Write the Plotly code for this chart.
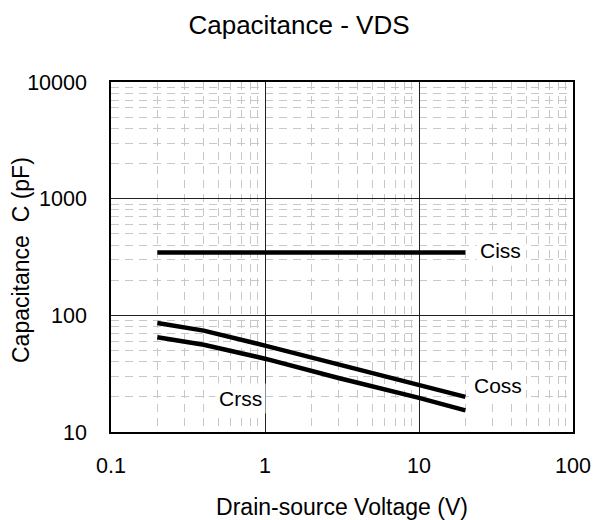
import math
import plotly.graph_objects as go

# Data
vds_ciss = [0.2, 1, 10, 20]
ciss = [345, 345, 345, 345]
vds_coss = [0.2, 0.4, 1, 3, 10, 20]
coss = [86, 74, 55, 38, 25.5, 20]
vds_crss = [0.2, 0.4, 1, 3, 10, 20]
crss = [65, 56, 42.5, 29, 19.6, 15.3]

x_ticks = [0.1, 1, 10, 100]
x_tick_labels = ["0.1", "1", "10", "100"]
y_ticks = [10, 100, 1000, 10000]
y_tick_labels = ["10", "100", "1000", "10000"]

labels = ["Ciss", "Coss", "Crss"]
label_x = [33.6, 32.8, 0.69]
label_y = [360, 25.1, 19.5]

FONT = "Liberation Sans, Arial, sans-serif"
PLOT_W = 593 - 111 - 20
PLOT_H = 520 - 82 - 88

def minor_vals(lo_exp, hi_exp):
    vals = []
    for e in range(lo_exp, hi_exp):
        for k in range(2, 10):
            vals.append(k * 10 ** e)
    return vals

fig = go.Figure()
for xs, ys in [(vds_ciss, ciss), (vds_coss, coss), (vds_crss, crss)]:
    fig.add_trace(go.Scatter(x=xs, y=ys, mode="lines",
                             line=dict(color="black", width=4.5),
                             showlegend=False, hoverinfo="skip"))

# annotations on log axes take log10 positions
for t, xv, yv in zip(labels, label_x, label_y):
    fig.add_annotation(x=math.log10(xv), y=math.log10(yv), xref="x", yref="y",
                       text=t, showarrow=False,
                       bgcolor="white", borderpad=3,
                       font=dict(family=FONT, size=21, color="black"))

# y-axis title (placed as rotated text left of the tick labels)
fig.add_annotation(x=-(111 - 21) / PLOT_W, y=(432 - 260) / PLOT_H,
                   xref="paper", yref="paper", xanchor="center", yanchor="middle",
                   text="Capacitance  C (pF)", textangle=-90, showarrow=False,
                   font=dict(family=FONT, size=23, color="black"))

axis_common = dict(
    type="log",
    showline=True, linecolor="black", linewidth=1.5, mirror=True,
    showgrid=True, gridcolor="#202020", gridwidth=1,
    ticks="", zeroline=False, automargin=False,
    tickfont=dict(family=FONT, size=21.5, color="black"),
)

fig.update_xaxes(
    **axis_common,
    range=[-1, 2],
    tickvals=x_ticks, ticktext=x_tick_labels,
    ticklabelstandoff=13,
    minor=dict(tickvals=minor_vals(-1, 2), showgrid=True,
               gridcolor="#c8c8c8", gridwidth=1, griddash="8px,6px"),
    title=dict(text="Drain-source Voltage (V)", standoff=22,
               font=dict(family=FONT, size=23, color="black")),
)
fig.update_yaxes(
    **axis_common,
    range=[1, 4],
    tickvals=y_ticks, ticktext=y_tick_labels,
    ticklabelstandoff=18,
    minor=dict(tickvals=minor_vals(1, 4), showgrid=True,
               gridcolor="#c8c8c8", gridwidth=1, griddash="8px,6px"),
)

fig.update_layout(
    width=593, height=520,
    margin=dict(l=111, r=20, t=82, b=88, autoexpand=False),
    paper_bgcolor="white", plot_bgcolor="white",
    title=dict(text="Capacitance - VDS", x=299 / 593, xanchor="center",
               y=1 - 25 / 520, yanchor="middle", yref="container",
               font=dict(family=FONT, size=26, color="black")),
)

fig.write_html("out.html",
               config={"displayModeBar": False},
               post_script="document.body.style.margin='0';document.body.style.padding='0';")
